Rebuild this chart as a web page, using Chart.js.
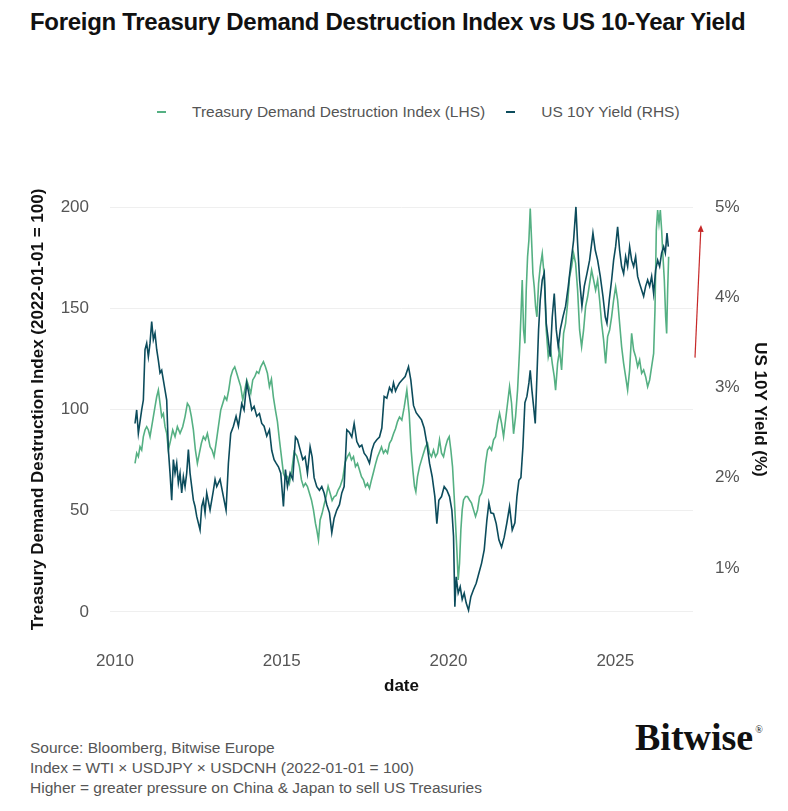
<!DOCTYPE html>
<html>
<head>
<meta charset="utf-8">
<title>Foreign Treasury Demand Destruction Index vs US 10-Year Yield</title>
<script src="https://cdn.jsdelivr.net/npm/chart.js@4.4.1/dist/chart.umd.min.js"></script>
<style>
  html, body { margin: 0; padding: 0; background: #fff; }
  body { width: 788px; height: 811px; position: relative; overflow: hidden; font-family: 'Liberation Sans', Arial, sans-serif; }
  #title { position: absolute; left: 30px; top: 8px; font-size: 24px; line-height: 28px; font-weight: bold; color: #111; letter-spacing: -0.3px; white-space: nowrap; }
  #legend { position: absolute; left: 157px; top: 102px; display: flex; font-size: 15.5px; line-height: 20px; color: #555; white-space: nowrap; }
  #legend .item { display: flex; align-items: center; margin-right: 21px; }
  #legend .dash { width: 9px; height: 2px; margin-right: 26px; }
  #wrap { position: absolute; left: 0; top: 140px; width: 788px; height: 570px; }
  #footer { position: absolute; left: 30px; top: 738px; font-size: 15.5px; line-height: 20px; color: #555; }
  #logo { position: absolute; left: 635px; top: 711px; font-family: 'Liberation Serif', 'DejaVu Serif', serif; font-weight: bold; font-size: 38px; line-height: 38px; color: #111; }
  #logo sup { font-size: 10px; font-weight: normal; vertical-align: 17px; margin-left: 2px; }
</style>
</head>
<body>
<div id="title">Foreign Treasury Demand Destruction Index vs US 10-Year Yield</div>
<div id="legend"></div>
<div id="wrap"><canvas id="chart" width="788" height="570"></canvas></div>
<div id="footer">
  Source: Bloomberg, Bitwise Europe<br>
  Index = WTI × USDJPY × USDCNH (2022-01-01 = 100)<br>
  Higher = greater pressure on China &amp; Japan to sell US Treasuries
</div>
<div id="logo">Bitwise<sup>®</sup></div>

<script>
// (decimal years)
const idxDates = [
  2010.60,2010.65,2010.70,2010.75,2010.80,2010.85,2010.90,2010.95,2011.00,2011.05,2011.10,2011.15,2011.20,2011.25,2011.30,2011.35,2011.40,2011.45,2011.50,2011.55,
  2011.60,2011.67,2011.73,2011.80,2011.87,2011.95,2012.03,2012.10,2012.17,2012.23,2012.29,2012.35,2012.41,2012.47,2012.53,2012.59,2012.65,2012.71,2012.77,2012.85,
  2012.91,2012.97,2013.03,2013.10,2013.17,2013.23,2013.29,2013.35,2013.41,2013.47,2013.53,2013.59,2013.65,2013.71,2013.77,2013.83,2013.89,2013.95,2014.01,2014.07,
  2014.13,2014.19,2014.25,2014.31,2014.37,2014.45,2014.51,2014.57,2014.63,2014.69,2014.75,2014.81,2014.87,2014.93,2014.99,2015.05,2015.11,2015.17,2015.23,2015.30,
  2015.37,2015.45,2015.53,2015.59,2015.65,2015.71,2015.77,2015.83,2015.89,2015.95,2016.01,2016.05,2016.10,2016.15,2016.21,2016.27,2016.33,2016.39,2016.45,2016.51,
  2016.57,2016.63,2016.69,2016.75,2016.83,2016.90,2016.97,2017.03,2017.09,2017.15,2017.21,2017.27,2017.33,2017.39,2017.45,2017.51,2017.57,2017.63,2017.69,2017.75,
  2017.81,2017.87,2017.93,2017.99,2018.05,2018.11,2018.17,2018.23,2018.29,2018.35,2018.41,2018.47,2018.53,2018.60,2018.67,2018.75,2018.82,2018.88,2018.93,2018.98,
  2019.02,2019.07,2019.13,2019.19,2019.25,2019.31,2019.37,2019.43,2019.49,2019.55,2019.61,2019.67,2019.73,2019.79,2019.85,2019.91,2019.97,2020.02,2020.07,2020.12,
  2020.17,2020.21,2020.25,2020.29,2020.33,2020.37,2020.41,2020.45,2020.51,2020.57,2020.63,2020.69,2020.75,2020.81,2020.87,2020.93,2020.99,2021.05,2021.11,2021.17,
  2021.23,2021.29,2021.35,2021.41,2021.47,2021.53,2021.59,2021.65,2021.71,2021.77,2021.83,2021.89,2021.95,2022.01,2022.07,2022.13,2022.17,2022.21,2022.25,2022.29,
  2022.33,2022.37,2022.41,2022.45,2022.49,2022.53,2022.57,2022.61,2022.65,2022.70,2022.75,2022.81,2022.87,2022.93,2022.99,2023.05,2023.11,2023.17,2023.21,2023.27,
  2023.33,2023.39,2023.45,2023.51,2023.57,2023.63,2023.69,2023.75,2023.81,2023.87,2023.93,2023.99,2024.05,2024.11,2024.17,2024.23,2024.29,2024.35,2024.41,2024.47,
  2024.53,2024.59,2024.65,2024.71,2024.77,2024.83,2024.89,2024.95,2025.01,2025.07,2025.13,2025.19,2025.25,2025.31,2025.37,2025.43,2025.49,2025.55,2025.61,2025.67,
  2025.73,2025.79,2025.85,2025.91,2025.97,2026.03,2026.09,2026.15,2026.19,2026.23,2026.27,2026.31,2026.35,2026.39,2026.43,2026.47,2026.51,2026.54,2026.57,2026.60
];
const idxValues = [
  73.4,78.4,76.7,81.6,80.0,86.6,89.9,91.5,89.9,86.6,91.5,96.5,101.4,106.3,109.6,103.0,96.5,98.0,91.5,88.2,
  80.0,85.0,89.9,86.6,91.5,88.2,91.5,96.5,103.0,101.4,96.5,89.9,80.0,73.4,78.4,83.3,86.6,85.0,88.2,81.6,
  80.0,76.7,83.3,91.5,99.7,103.0,106.3,104.7,109.6,116.2,119.5,121.1,117.9,114.6,111.3,104.7,109.6,114.6,111.3,108.0,
  114.6,116.2,118.7,117.9,121.1,123.6,121.1,117.9,111.3,115.0,106.0,99.7,94.0,85.0,76.7,68.5,66.0,66.8,63.5,70.0,
  79.0,77.0,71.8,65.2,61.9,63.5,61.9,58.6,55.3,50.4,43.8,40.5,35.5,45.4,48.7,53.0,57.0,62.0,58.6,55.0,
  56.9,57.5,60.2,62.0,66.0,74.0,76.7,78.4,75.1,76.7,71.8,73.4,70.1,66.8,65.2,61.9,63.5,61.0,65.2,69.0,
  73.0,76.5,79.0,81.5,78.4,80.0,78.4,83.3,85.0,88.0,90.5,94.0,96.3,94.8,101.0,109.6,98.0,80.0,70.0,62.0,
  59.4,66.8,71.8,75.1,78.4,81.6,83.3,78.4,76.7,80.0,76.7,78.4,85.0,78.4,76.7,81.6,85.0,86.6,80.0,71.8,
  57.0,43.8,30.6,15.8,24.0,40.5,50.4,55.3,57.0,57.0,55.3,53.7,50.4,47.1,50.4,57.0,58.6,63.5,73.4,80.0,
  81.6,80.0,85.0,86.6,93.2,98.1,93.2,86.6,94.8,103.1,111.3,103.1,88.0,96.5,109.6,129.4,145.8,164.0,139.3,132.7,
  159.0,175.5,183.7,199.3,183.7,167.2,160.6,150.8,145.8,162.3,170.5,177.1,165.6,139.3,126.1,131.0,122.8,116.2,109.6,122.8,
  129.4,119.5,137.6,142.6,152.4,165.6,170.5,177.1,172.2,159.0,139.3,131.0,139.3,150.8,155.7,162.3,168.9,164.0,159.0,164.0,
  154.1,142.6,134.3,122.8,136.0,139.3,145.8,154.1,160.6,154.1,142.6,131.0,122.8,116.2,109.6,119.5,137.6,129.4,126.1,121.2,
  124.5,117.9,119.5,116.2,111.3,114.6,121.2,127.7,149.1,188.6,198.5,192.0,198.5,188.6,175.5,164.0,145.8,137.6,159.0,175.5
];

const yldDates = [
  2010.60,2010.65,2010.70,2010.80,2010.85,2010.90,2010.95,2011.00,2011.05,2011.10,2011.15,2011.20,2011.25,2011.30,2011.35,2011.40,2011.45,2011.50,2011.55,2011.60,
  2011.65,2011.70,2011.75,2011.80,2011.85,2011.90,2011.95,2012.00,2012.05,2012.10,2012.15,2012.20,2012.25,2012.30,2012.35,2012.40,2012.45,2012.55,2012.60,2012.65,
  2012.70,2012.75,2012.85,2012.95,2013.00,2013.05,2013.15,2013.25,2013.33,2013.40,2013.47,2013.55,2013.63,2013.70,2013.80,2013.87,2013.95,2014.03,2014.10,2014.17,
  2014.25,2014.33,2014.40,2014.47,2014.55,2014.63,2014.70,2014.77,2014.83,2014.90,2014.97,2015.05,2015.11,2015.17,2015.25,2015.33,2015.41,2015.47,2015.55,2015.63,
  2015.70,2015.77,2015.85,2015.91,2015.97,2016.05,2016.13,2016.20,2016.27,2016.35,2016.43,2016.50,2016.57,2016.65,2016.73,2016.80,2016.87,2016.95,2017.03,2017.10,
  2017.17,2017.25,2017.33,2017.40,2017.47,2017.55,2017.63,2017.70,2017.77,2017.85,2017.93,2018.00,2018.07,2018.15,2018.23,2018.30,2018.35,2018.41,2018.47,2018.53,
  2018.60,2018.70,2018.80,2018.87,2018.95,2019.03,2019.11,2019.19,2019.27,2019.35,2019.43,2019.51,2019.59,2019.65,2019.71,2019.79,2019.87,2019.95,2020.03,2020.10,
  2020.15,2020.19,2020.23,2020.29,2020.35,2020.41,2020.47,2020.53,2020.60,2020.67,2020.75,2020.83,2020.91,2020.99,2021.07,2021.15,2021.21,2021.27,2021.35,2021.43,
  2021.51,2021.59,2021.67,2021.75,2021.83,2021.91,2021.99,2022.05,2022.11,2022.17,2022.23,2022.29,2022.35,2022.41,2022.45,2022.50,2022.55,2022.60,2022.65,2022.70,
  2022.75,2022.81,2022.87,2022.93,2022.99,2023.05,2023.11,2023.17,2023.23,2023.29,2023.35,2023.43,2023.51,2023.59,2023.67,2023.75,2023.82,2023.87,2023.93,2024.00,
  2024.07,2024.15,2024.23,2024.33,2024.40,2024.47,2024.55,2024.63,2024.70,2024.75,2024.82,2024.89,2024.95,2025.01,2025.07,2025.13,2025.19,2025.25,2025.31,2025.37,
  2025.43,2025.49,2025.55,2025.61,2025.67,2025.73,2025.79,2025.85,2025.91,2025.97,2026.03,2026.09,2026.15,2026.21,2026.27,2026.33,2026.39,2026.45,2026.50,2026.55,
  2026.59
];
const yldValues = [
  2.60,2.75,2.49,2.75,2.86,3.42,3.49,3.34,3.49,3.73,3.53,3.60,3.42,3.30,3.16,3.19,3.08,2.97,2.86,2.31,
  2.05,1.75,2.20,2.05,2.16,1.94,2.05,1.83,2.01,1.90,2.05,2.31,2.05,1.90,1.75,1.68,1.57,1.42,1.68,1.75,
  1.61,1.83,1.64,1.86,1.98,1.90,1.98,1.79,1.64,2.16,2.49,2.57,2.68,2.57,2.82,2.75,3.05,2.90,2.75,2.79,
  2.68,2.71,2.60,2.57,2.46,2.53,2.30,2.20,2.16,2.12,2.05,1.68,2.09,1.90,2.05,1.98,2.45,2.42,2.31,2.20,
  2.23,2.05,2.34,2.23,2.00,1.90,1.86,1.90,1.83,1.70,1.61,1.39,1.55,1.64,1.70,1.83,1.90,2.53,2.50,2.45,
  2.60,2.40,2.34,2.36,2.27,2.23,2.16,2.30,2.38,2.42,2.45,2.55,2.90,2.88,3.00,2.95,3.05,2.96,3.01,3.05,
  3.08,3.12,3.23,3.08,2.80,2.72,2.68,2.64,2.55,2.38,2.16,2.01,1.79,1.49,1.75,1.79,1.90,1.86,1.79,1.64,
  1.35,0.57,0.90,0.72,0.79,0.65,0.72,0.61,0.53,0.68,0.76,0.83,0.94,1.05,1.20,1.53,1.72,1.61,1.60,1.49,
  1.31,1.23,1.34,1.50,1.68,1.42,1.50,1.79,1.97,2.00,2.34,2.83,2.90,3.05,3.19,2.97,2.79,2.60,3.12,3.64,
  3.97,4.19,4.27,3.71,3.53,3.34,3.78,4.04,3.64,3.45,3.64,3.78,3.90,4.12,4.38,4.63,5.00,4.60,4.19,3.90,
  4.12,4.26,4.41,4.71,4.52,4.41,4.23,4.01,3.78,3.71,3.97,4.19,4.41,4.56,4.78,4.52,4.34,4.26,4.45,4.34,
  4.56,4.41,4.34,4.45,4.23,4.15,4.08,4.01,4.12,4.19,4.12,4.23,4.04,4.30,4.41,4.34,4.49,4.56,4.49,4.71,
  4.56
];

const xTicks = [2010, 2015, 2020, 2025];
const leftTicks = [0, 50, 100, 150, 200];
const rightTicks = [1, 2, 3, 4, 5];
const arrowYield = [3.33, 4.80]; // red arrow on the right edge, from / to (RHS %)

const GREEN = '#55b083';
const DARK = '#0c4c5c';
const TICK = '#555555';

Chart.defaults.font.family = "'Liberation Sans', Arial, sans-serif";
Chart.defaults.animation = false;

const arrowPlugin = {
  id: 'arrow',
  afterDraw(chart) {
    const { ctx, chartArea, scales } = chart;
    const y0 = scales.y1.getPixelForValue(arrowYield[0]);
    const y1 = scales.y1.getPixelForValue(arrowYield[1]);
    const x0 = chartArea.right + 2;
    const x1 = chartArea.right + 8;
    const ang = Math.atan2(y1 - y0, x1 - x0);
    ctx.save();
    ctx.strokeStyle = '#c62828';
    ctx.fillStyle = '#c62828';
    ctx.lineWidth = 1.2;
    ctx.beginPath();
    ctx.moveTo(x0, y0);
    ctx.lineTo(x1 - 5 * Math.cos(ang), y1 - 5 * Math.sin(ang));
    ctx.stroke();
    ctx.beginPath();
    ctx.moveTo(x1, y1);
    ctx.lineTo(x1 - 7 * Math.cos(ang) + 3 * Math.sin(ang), y1 - 7 * Math.sin(ang) - 3 * Math.cos(ang));
    ctx.lineTo(x1 - 7 * Math.cos(ang) - 3 * Math.sin(ang), y1 - 7 * Math.sin(ang) + 3 * Math.cos(ang));
    ctx.closePath();
    ctx.fill();
    ctx.restore();
  },
};

const toPoints = (xs, ys) => xs.map((x, i) => ({ x, y: ys[i] }));

const chart = new Chart(document.getElementById('chart').getContext('2d'), {
  type: 'line',
  data: {
    datasets: [
      {
        label: 'Treasury Demand Destruction Index (LHS)',
        data: toPoints(idxDates, idxValues),
        yAxisID: 'y',
        borderColor: GREEN,
        borderWidth: 1.6,
        pointRadius: 0,
        tension: 0,
        order: 1,
      },
      {
        label: 'US 10Y Yield (RHS)',
        data: toPoints(yldDates, yldValues),
        yAxisID: 'y1',
        borderColor: DARK,
        borderWidth: 1.6,
        pointRadius: 0,
        tension: 0,
        order: 0,
      },
    ],
  },
  options: {
    responsive: false,
    devicePixelRatio: 1,
    layout: { padding: { top: 57, left: 0, right: 0, bottom: 0 } },
    plugins: { legend: { display: false }, tooltip: { enabled: false } },
    scales: {
      x: {
        type: 'linear',
        min: 2009.85,
        max: 2027.33,
        afterBuildTicks: (axis) => { axis.ticks = xTicks.map((v) => ({ value: v })); },
        afterFit: (axis) => { axis.height = 88; },
        ticks: { color: TICK, font: { size: 17 }, padding: 29, maxRotation: 0, autoSkip: false, callback: (v) => String(v) },
        grid: { display: false, drawTicks: false },
        border: { display: false },
        title: { display: true, text: 'date', color: '#111', font: { size: 17, weight: 'bold' }, padding: { top: 4, bottom: 13 } },
      },
      y: {
        position: 'left',
        min: -5,
        max: 205,
        afterBuildTicks: (axis) => { axis.ticks = leftTicks.map((v) => ({ value: v })); },
        afterFit: (axis) => { axis.width = 110; },
        ticks: { color: TICK, font: { size: 17 }, padding: 21 },
        grid: { color: '#efefef', lineWidth: 1, drawTicks: false },
        border: { display: false },
        title: { display: true, text: 'Treasury Demand Destruction Index (2022-01-01 = 100)', color: '#111', font: { size: 17, weight: 'bold' }, padding: { top: 28, bottom: 0 } },
      },
      y1: {
        position: 'right',
        min: 0.40,
        max: 5.11,
        afterBuildTicks: (axis) => { axis.ticks = rightTicks.map((v) => ({ value: v })); },
        afterFit: (axis) => { axis.width = 95; },
        ticks: { color: TICK, font: { size: 17 }, padding: 22, callback: (v) => v + '%' },
        grid: { display: false, drawTicks: false },
        border: { display: false },
        title: { display: true, text: 'US 10Y Yield (%)', color: '#111', font: { size: 17, weight: 'bold' }, padding: { top: 18, bottom: 0 } },
      },
    },
  },
  plugins: [arrowPlugin],
});

// legend built from the datasets, in dataset order
const legend = document.getElementById('legend');
chart.data.datasets.forEach((ds) => {
  const item = document.createElement('div');
  item.className = 'item';
  const dash = document.createElement('span');
  dash.className = 'dash';
  dash.style.background = ds.borderColor;
  const label = document.createElement('span');
  label.textContent = ds.label;
  item.appendChild(dash);
  item.appendChild(label);
  legend.appendChild(item);
});
</script>
</body>
</html>
